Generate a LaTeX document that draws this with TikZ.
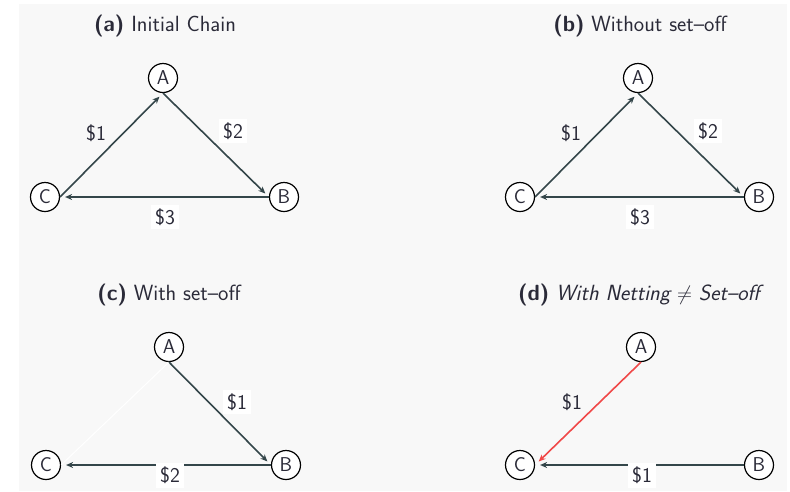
\documentclass[tikz,border=0pt]{standalone}
\usepackage{xcolor}
\usepackage{tikz}
\usetikzlibrary{arrows.meta,positioning}
\definecolor{ink}{HTML}{2A2A38}
\definecolor{wire}{HTML}{34464A}
\definecolor{alert}{HTML}{F04848}
\definecolor{paper}{HTML}{F8F8F8}

\tikzset{
  party/.style={circle,draw=black,line width=1.2pt,fill=white,minimum size=29pt,inner sep=0pt,
                text=ink,font=\sffamily\fontsize{20}{22}\selectfont},
  debt/.style={-{Stealth[length=7pt,width=6pt]},wire,line width=1.6pt,shorten >=5pt},
  amount/.style={text=ink,font=\sffamily\fontsize{21}{24}\selectfont,inner sep=4pt},
  boxed/.style={amount,fill=white},
  heading/.style={text=ink,font=\sffamily\fontsize{22}{26}\selectfont}
}

\begin{document}
\begin{tikzpicture}[x=1pt,y=-1pt]
  \useasboundingbox (0,0) rectangle (790,491);
  \fill[white] (0,0) rectangle (790,491);
  \fill[paper] (19,4) rectangle (787,491);

  % top row: the chain before and without set-off
  \foreach \p/\t/\x in {a/{Initial Chain}/0,
                        b/{Without set--off}/475}{
    \node[heading] (title\p) at (\x+165,26) {\textbf{(\p)} \t};
    \node[party] (A\p) at (\x+163,78) {A};
    \node[party] (B\p) at (\x+284,197) {B};
    \node[party] (C\p) at (\x+45,197) {C};
    \draw[debt] (C\p.east) -- (A\p.south);
    \draw[debt] (A\p.south) -- (B\p.west);
    \draw[debt] (B\p.west) -- (C\p.east);
    \node[amount] (one\p) at (\x+96,133) {\$1};
    \node[boxed] (two\p) at (\x+233,131) {\$2};
    \node[boxed] (three\p) at (\x+165,217) {\$3};}

  % (c) with set-off
  \node[heading] (titlec) at (169,295) {\textbf{(c)} With set--off};
  \node[party] (Ac) at (169,347) {A};
  \node[party] (Bc) at (286,465) {B};
  \node[party] (Cc) at (46,465) {C};
  \draw[white,line width=1pt] (Cc.east) -- (Ac.south);
  \draw[debt] (Ac.south) -- (Bc.west);
  \draw[debt] (Bc.west) -- (Cc.east);
  \node[boxed] (onec) at (237,402) {\$1};
  \node[boxed,anchor=north] (twoc) at (170,463) {\$2};

  % (d) netting is not set-off
  \node[heading] (titled) at (641,295) {\textbf{(d)} \textit{With Netting $\neq$ Set--off}};
  \node[party] (Ad) at (641,347) {A};
  \node[party] (Bd) at (759,465) {B};
  \node[party] (Cd) at (520,465) {C};
  \draw[debt,alert] (Ad.south) -- (Cd.east);
  \draw[debt] (Bd.west) -- (Cd.east);
  \node[amount] (oned) at (572,402) {\$1};
  \node[boxed,anchor=north] (twod) at (642,463) {\$1};
\end{tikzpicture}
\end{document}
